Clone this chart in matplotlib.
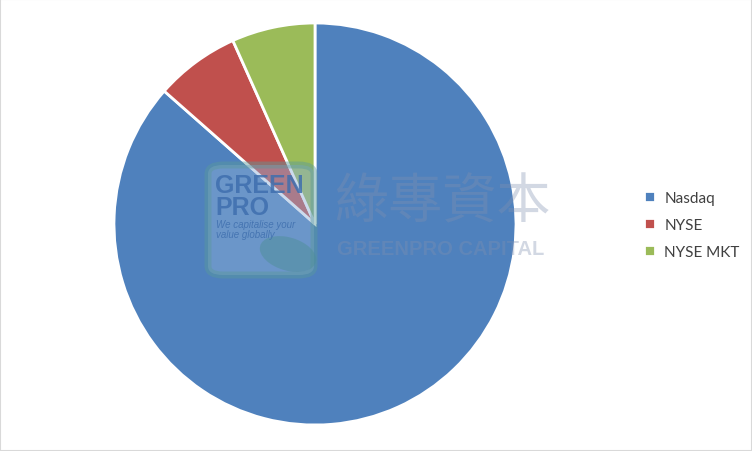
import matplotlib.pyplot as plt
from matplotlib.patches import FancyBboxPatch, Rectangle, Ellipse

# exchange share of listings
labels = ['Nasdaq', 'NYSE', 'NYSE MKT']
shares = [86.5, 6.8, 6.7]
colors = ['#4F81BD', '#C0504D', '#9BBB59']

W, H = 752, 452
fig = plt.figure(figsize=(W / 100, H / 100), dpi=100)
fig.patches.append(Rectangle((0, 0), 1, 1, transform=fig.transFigure,
                             fill=False, edgecolor='#d9d9d9', linewidth=1.5))

# pie centred at (315, 225) px, radius 201 px
ax = fig.add_axes([(315 - 201) / W, 1 - (225 + 201) / H, 402 / W, 402 / H])
wedges, _ = ax.pie(shares, colors=colors, startangle=90, counterclock=False,
                   wedgeprops=dict(edgecolor='white', linewidth=2))
ax.set_aspect('equal')
ax.set_xlim(-1.0, 1.0)
ax.set_ylim(-1.0, 1.0)

leg = fig.legend(wedges, labels, loc='center left', bbox_to_anchor=(630 / W, 1 - 226 / H),
                 frameon=False, prop={'family': 'Lato', 'size': 11},
                 handlelength=0.75, handleheight=0.75, handletextpad=0.6, labelspacing=0.85)
for t in leg.get_texts():
    t.set_color('#404040')

# watermark
def px(x, y):
    return x / W, 1 - y / H

box = FancyBboxPatch(px(208, 276), 106 / W, 110 / H, boxstyle='round,pad=0.0,rounding_size=0.02',
                     transform=fig.transFigure, facecolor='#8fb0d8', edgecolor='#5a9a9a',
                     linewidth=5, alpha=0.45, zorder=5)
fig.patches.append(box)
leaf = Ellipse(px(288, 255), 48 / W, 40 / H, angle=40, transform=fig.transFigure,
               facecolor='#4f8f98', alpha=0.5, zorder=5)
fig.patches.append(leaf)
for txt, y in [('GREEN', 186), ('PRO', 208)]:
    fig.text(*px(215, y), txt, fontsize=18, fontweight='bold', family='Liberation Sans',
             color='#3f6fae', alpha=0.85, va='center', zorder=6)
fig.text(*px(216, 225), 'We capitalise your', fontsize=7, style='italic', family='Liberation Sans',
         color='#3f6fae', alpha=0.85, va='center', zorder=6)
fig.text(*px(216, 235), 'value globally', fontsize=7, style='italic', family='Liberation Sans',
         color='#3f6fae', alpha=0.85, va='center', zorder=6)
fig.text(*px(442, 203), '綠專資本', fontsize=39, family=['Noto Sans CJK TC', 'DejaVu Sans'],
         color='#8090b0', alpha=0.35, ha='center', va='center', zorder=6)
fig.text(*px(441, 250), 'GREENPRO CAPITAL', fontsize=14.5, fontweight='bold', family='Liberation Sans',
         color='#8090b0', alpha=0.35, ha='center', va='center', zorder=6)

fig.savefig('out.png', dpi=100)
